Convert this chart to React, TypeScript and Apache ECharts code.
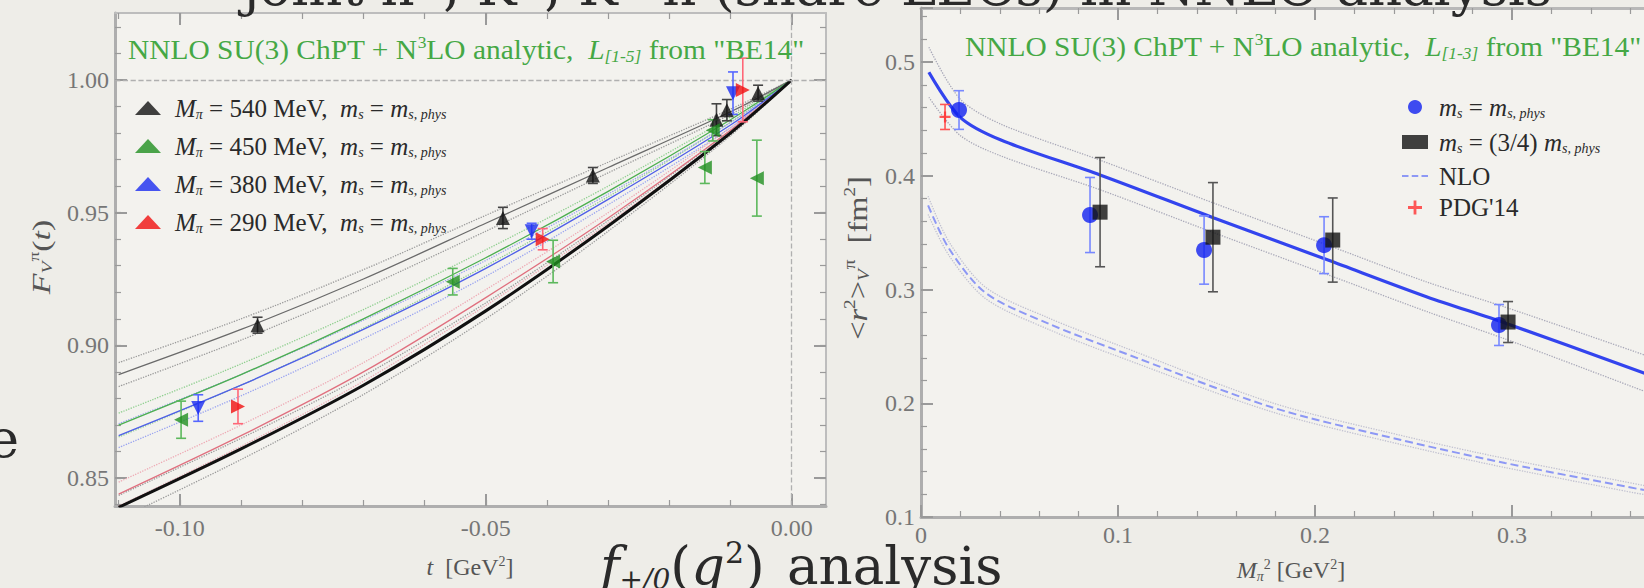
import React, { useEffect, useRef } from "react";
import * as echarts from "echarts";

// ---------------- Left panel: F_V^{pi+}(t) ----------------
const tGrid = [-0.11, -0.09, -0.07, -0.05, -0.03, -0.01, 0.0];
const fit540 = [0.889, 0.906, 0.925, 0.946, 0.967, 0.988, 1.0];
const fit450 = [0.870, 0.889, 0.910, 0.933, 0.958, 0.985, 1.0];
const fit380 = [0.866, 0.885, 0.906, 0.929, 0.955, 0.983, 1.0];
const fit290 = [0.844, 0.866, 0.890, 0.918, 0.948, 0.981, 1.0];
const fitPhys = [0.839, 0.861, 0.885, 0.913, 0.945, 0.980, 1.0];
const fitBand = [0.0045, 0.004, 0.0035, 0.003, 0.002, 0.001, 0.0];

// [t, F, error]
const pts540 = [
  [-0.0873, 0.9076, 0.003],
  [-0.0472, 0.948, 0.004],
  [-0.0325, 0.964, 0.003],
  [-0.0123, 0.985, 0.006],
  [-0.0106, 0.9886, 0.004],
  [-0.0055, 0.995, 0.003],
];
const pts450 = [
  [-0.0998, 0.872, 0.007],
  [-0.0554, 0.924, 0.005],
  [-0.039, 0.9316, 0.008],
  [-0.0142, 0.967, 0.006],
  [-0.0129, 0.981, 0.004],
  [-0.0057, 0.963, 0.0143],
];
const pts380 = [
  [-0.097, 0.8764, 0.005],
  [-0.0425, 0.943, 0.003],
  [-0.0096, 0.995, 0.008],
];
const pts290 = [
  [-0.0905, 0.877, 0.0065],
  [-0.0407, 0.94, 0.004],
  [-0.008, 0.9962, 0.012],
];

const leftXLabels = [-0.1, -0.05, 0.0];
const leftXMinor = [-0.11, -0.1, -0.09, -0.08, -0.07, -0.06, -0.05, -0.04, -0.03, -0.02, -0.01, 0.0];
const leftYLabels = [0.85, 0.9, 0.95, 1.0];
const leftYMinor = [0.84, 0.85, 0.86, 0.87, 0.88, 0.89, 0.9, 0.91, 0.92, 0.93, 0.94, 0.95, 0.96, 0.97, 0.98, 0.99, 1.0, 1.01, 1.02];

// ---------------- Right panel: <r^2>_V vs M_pi^2 ----------------
const nnloX = [0.004, 0.0198, 0.0406, 0.0909, 0.1487, 0.2066, 0.2569, 0.2964, 0.368];
const nnloY = [0.491, 0.4516, 0.4314, 0.4007, 0.3629, 0.3259, 0.2935, 0.2706, 0.226];
const nnloBand = [0.022, 0.016, 0.014, 0.013, 0.013, 0.013, 0.013, 0.014, 0.016];
const nloX = [0.0036, 0.0142, 0.0328, 0.0647, 0.099, 0.1777, 0.2437, 0.2964, 0.367];
const nloY = [0.374, 0.336, 0.297, 0.27, 0.2468, 0.1967, 0.1677, 0.1475, 0.1237];
const nloBand = [0.008, 0.006, 0.005, 0.005, 0.005, 0.004, 0.004, 0.004, 0.004];

const physPts = [
  [0.0193, 0.4578, 0.017],
  [0.0858, 0.3655, 0.033],
  [0.1437, 0.3347, 0.03],
  [0.2046, 0.339, 0.025],
  [0.2934, 0.2688, 0.018],
];
const threeQPts = [
  [0.0909, 0.368, 0.048],
  [0.1482, 0.346, 0.048],
  [0.209, 0.3435, 0.037],
  [0.298, 0.2714, 0.018],
];
const pdgPts = [[0.0122, 0.4517, 0.011]];

// ---------------- styling ----------------
const SERIF = "Liberation Serif";
const SLIDE = "DejaVu Serif";
const GREEN = "#45a845";
const AXIS = "#aeaeae";
const TICK = "#9a9a9a";
const LABEL = { fontFamily: SERIF, fontSize: 24, color: "#767676" };

function richFor(size: number, color: string, spW = 12) {
  const sub = Math.round(size * 0.58);
  const shift = Math.round(size * 0.5);
  return {
    i: { fontFamily: SERIF, fontSize: size, fontStyle: "italic", color, fill: color },
    s: { fontFamily: SERIF, fontSize: sub, fontStyle: "italic", color, fill: color, padding: [shift, 0, 0, 0] },
    p: { fontFamily: SERIF, fontSize: sub, color, fill: color, padding: [0, 0, shift, 0] },
    sp: { width: spW, fontSize: size },
  };
}

const L = { xAxisIndex: 0, yAxisIndex: 0 };
const R = { xAxisIndex: 4, yAxisIndex: 4 };

function curve(xs: number[], ys: number[], color: string, width: number, type: string, z: number, axes: any, extra: any = {}) {
  return {
    type: "line",
    ...axes,
    data: xs.map((x, i) => [x, ys[i]]),
    symbol: "none",
    smooth: 0.3,
    silent: true,
    z,
    lineStyle: { color, width, type },
    ...extra,
  };
}

function band(xs: number[], ys: number[], half: number[], center: string, edge: string, cw: number, axes: any, ctype = "solid", name?: string) {
  return [
    curve(xs, ys.map((y, i) => y + half[i]), edge, 1.3, "dotted", 2, axes),
    curve(xs, ys.map((y, i) => y - half[i]), edge, 1.3, "dotted", 2, axes),
    curve(xs, ys, center, cw, ctype, 3, axes, name ? { name } : {}),
  ];
}

function marks(name: string, pts: number[][], symbol: string, rotate: number, size: number, color: string, axes: any) {
  return {
    type: "scatter",
    name,
    ...axes,
    data: pts.map((p) => [p[0], p[1]]),
    symbol,
    symbolRotate: rotate,
    symbolSize: size,
    itemStyle: { color },
    z: 6,
    silent: true,
  };
}

function errorBars(pts: number[][], color: string, axes: any, cap = 5) {
  return {
    type: "custom",
    ...axes,
    data: pts,
    silent: true,
    z: 5,
    encode: { x: 0, y: 1 },
    renderItem: (_params: any, api: any) => {
      const x = api.value(0);
      const y = api.value(1);
      const e = api.value(2);
      const top = api.coord([x, y + e]);
      const bot = api.coord([x, y - e]);
      const style = { stroke: color, lineWidth: 1.6 };
      return {
        type: "group",
        children: [
          { type: "line", shape: { x1: top[0], y1: top[1], x2: bot[0], y2: bot[1] }, style },
          { type: "line", shape: { x1: top[0] - cap, y1: top[1], x2: top[0] + cap, y2: top[1] }, style },
          { type: "line", shape: { x1: bot[0] - cap, y1: bot[1], x2: bot[0] + cap, y2: bot[1] }, style },
        ],
      };
    },
  };
}

function majorAxis(gridIndex: number, position: string, min: number, max: number, labels: number[], showLabel: boolean, fmt: (v: number) => string, margin: number, lineColor = AXIS, lineWidth = 3) {
  return {
    type: "value",
    gridIndex,
    position,
    min,
    max,
    splitLine: { show: false },
    axisLine: { show: true, onZero: false, lineStyle: { color: lineColor, width: lineWidth } },
    axisTick: { show: true, inside: true, length: 12, customValues: labels, lineStyle: { color: TICK, width: 2 } },
    axisLabel: { show: showLabel, ...LABEL, margin, formatter: fmt, customValues: labels },
  };
}

function minorAxis(gridIndex: number, position: string, min: number, max: number, values: number[]) {
  return {
    type: "value",
    gridIndex,
    position,
    min,
    max,
    splitLine: { show: false },
    axisLine: { show: false, onZero: false },
    axisTick: { show: true, inside: true, length: 6, customValues: values, lineStyle: { color: TICK, width: 1.2 } },
    axisLabel: { show: false },
  };
}

function rightAxis(position: string, min: number, max: number, showLabel: boolean, margin: number, lineColor = AXIS) {
  return {
    type: "value",
    gridIndex: 1,
    position,
    min,
    max,
    interval: 0.1,
    splitLine: { show: false },
    axisLine: { show: true, onZero: false, lineStyle: { color: lineColor, width: 3 } },
    axisTick: { show: true, inside: true, length: 12, lineStyle: { color: TICK, width: 2 } },
    minorTick: { show: true, splitNumber: 5, length: 6, lineStyle: { color: TICK, width: 1.2 } },
    axisLabel: { show: showLabel, ...LABEL, margin, showMaxLabel: false },
  };
}

const f2 = (v: number) => v.toFixed(2);
const XL = [-0.1106, 0.0056];
const YL = [0.8395, 1.0252];
const XR = [0, 0.4];
const YR = [0.1, 0.5475];

const leftLegendText: Record<string, string> = {
  "540": "{sp|}{i|M}{s|π} = 540 MeV,  {i|m}{s|s} = {i|m}{s|s, phys}",
  "450": "{sp|}{i|M}{s|π} = 450 MeV,  {i|m}{s|s} = {i|m}{s|s, phys}",
  "380": "{sp|}{i|M}{s|π} = 380 MeV,  {i|m}{s|s} = {i|m}{s|s, phys}",
  "290": "{sp|}{i|M}{s|π} = 290 MeV,  {i|m}{s|s} = {i|m}{s|s, phys}",
};
const rightLegendText: Record<string, string> = {
  phys: "{sp|}{i|m}{s|s} = {i|m}{s|s, phys}",
  threeq: "{sp|}{i|m}{s|s} = (3/4) {i|m}{s|s, phys}",
  NLO: "{sp|}NLO",
  PDG: "{sp|}PDG'14",
};

const PLUS = "path://M4,0H6V4H10V6H6V10H4V6H0V4H4Z";
const DASH = "path://M0,0H6V2H0Z M9,0H15V2H9Z M18,0H24V2H18Z";

function textEl(x: number, y: number, text: string, size: number, color: string, opts: any = {}) {
  const { rich, align = "left", rotation = 0, scaleX = 1, font = SERIF } = opts;
  return {
    type: "text",
    x,
    y,
    rotation,
    scaleX,
    z: 100,
    silent: true,
    style: {
      text,
      fontFamily: font,
      fontSize: size,
      fill: color,
      align,
      verticalAlign: "middle",
      rich,
    },
  };
}

const slideRich = {
  fi: { fontFamily: SLIDE, fontSize: 53, fontStyle: "italic", fill: "#2a2a2a" },
  sb: { fontFamily: SLIDE, fontSize: 28, fontStyle: "italic", fill: "#2a2a2a", padding: [28, 0, 0, 0] },
  su: { fontFamily: SLIDE, fontSize: 30, fill: "#2a2a2a", padding: [0, 0, 26, 0] },
};

const option: any = {
  animation: false,
  backgroundColor: "#eeede8",
  grid: [
    { left: 115, top: 13, width: 711, height: 493, show: true, backgroundColor: "#f3f2ee", borderWidth: 0 },
    { left: 921, top: 8, width: 788, height: 509, show: true, backgroundColor: "#f3f2ee", borderWidth: 0 },
  ],
  xAxis: [
    majorAxis(0, "bottom", XL[0], XL[1], leftXLabels, true, f2, 10),
    minorAxis(0, "bottom", XL[0], XL[1], leftXMinor),
    majorAxis(0, "top", XL[0], XL[1], leftXLabels, false, f2, 8, "#bdbdbd", 2),
    minorAxis(0, "top", XL[0], XL[1], leftXMinor),
    rightAxis("bottom", XR[0], XR[1], true, 6),
    rightAxis("top", XR[0], XR[1], false, 6, "#b8b8b8"),
  ],
  yAxis: [
    majorAxis(0, "left", YL[0], YL[1], leftYLabels, true, f2, 6),
    minorAxis(0, "left", YL[0], YL[1], leftYMinor),
    majorAxis(0, "right", YL[0], YL[1], leftYLabels, false, f2, 8, "#bdbdbd", 2),
    minorAxis(0, "right", YL[0], YL[1], leftYMinor),
    rightAxis("left", YR[0], YR[1], true, 6),
  ],
  legend: [
    {
      orient: "vertical",
      left: 130,
      top: 89,
      itemGap: 10,
      itemWidth: 26,
      itemHeight: 14,
      selectedMode: false,
      data: ["540", "450", "380", "290"],
      formatter: (n: string) => leftLegendText[n],
      textStyle: { fontFamily: SERIF, fontSize: 25, color: "#2a2a2a", lineHeight: 28, rich: richFor(25, "#2a2a2a", 9) },
    },
    {
      orient: "vertical",
      left: 1397,
      top: 86,
      itemGap: 4,
      itemWidth: 26,
      itemHeight: 14,
      selectedMode: false,
      data: [
        { name: "phys", textStyle: { lineHeight: 32 } },
        { name: "threeq", textStyle: { lineHeight: 30 } },
        { name: "NLO", icon: DASH, itemStyle: { color: "#8d98f5" }, textStyle: { lineHeight: 30 } },
        { name: "PDG", textStyle: { lineHeight: 12 } },
      ],
      formatter: (n: string) => rightLegendText[n],
      textStyle: { fontFamily: SERIF, fontSize: 25, color: "#2a2a2a", rich: richFor(25, "#2a2a2a", 6) },
    },
  ],
  series: [
    // left panel fits
    ...band(tGrid, fit540, fitBand, "#6a6a6a", "#9a9a9a", 1.3, L),
    ...band(tGrid, fit450, fitBand, "#4caf50", "#8fcf8f", 1.3, L),
    ...band(tGrid, fit380, fitBand, "#4f5fe8", "#9aa4f0", 1.3, L),
    ...band(tGrid, fit290, fitBand, "#e0707f", "#eeaab5", 1.3, L),
    ...band(tGrid, fitPhys, fitBand, "#111111", "#9a9a9a", 3, L),
    {
      type: "line",
      ...L,
      data: [],
      silent: true,
      markLine: {
        silent: true,
        symbol: "none",
        label: { show: false },
        lineStyle: { color: "#b0b0b0", type: "dashed", width: 1.3 },
        data: [{ yAxis: 1 }, { xAxis: 0 }],
      },
    },
    errorBars(pts540, "#444444", L),
    errorBars(pts450, "#5cb85c", L),
    errorBars(pts380, "#5566ff", L),
    errorBars(pts290, "#ff6677", L),
    marks("540", pts540, "triangle", 0, 14, "#111111", L),
    marks("450", pts450, "triangle", 90, 14, "#1f8f1f", L),
    marks("380", pts380, "triangle", 180, 14, "#1a2cf0", L),
    marks("290", pts290, "triangle", -90, 14, "#f01010", L),
    // right panel
    ...band(nnloX, nnloY, nnloBand, "#3344ee", "#a8a8b8", 3.2, R),
    ...band(nloX, nloY, nloBand, "#8d98f5", "#c0c0d0", 2, R, "dashed", "NLO"),
    errorBars(physPts, "#7788ff", R),
    errorBars(threeQPts, "#555555", R),
    errorBars(pdgPts, "#ff5555", R),
    marks("phys", physPts, "circle", 0, 16, "#1020f0", R),
    marks("threeq", threeQPts, "rect", 0, 15, "#111111", R),
    marks("PDG", pdgPts, PLUS, 0, 11, "#ff3030", R),
  ],
  graphic: [
    // slide text
    textEl(1552, -14, "joint π⁺, K⁺, K→π (share LECs) in NNLO analysis", 53, "#2a2a2a", { align: "right", font: SLIDE }),
    textEl(19, 438, "e", 53, "#2a2a2a", { align: "right", font: SLIDE }),
    textEl(600, 565, "{fi|f}{sb|+/0}({fi|q}{su|2})", 53, "#2a2a2a", { font: SLIDE, rich: slideRich }),
    textEl(787, 565, "analysis", 53, "#2a2a2a", { font: SLIDE }),
    // panel titles
    textEl(128, 50, 'NNLO SU(3) ChPT + N{p|3}LO analytic,  {i|L}{s|[1-5]} from "BE14"', 27, GREEN, { rich: richFor(27, GREEN), scaleX: 1.09 }),
    textEl(965, 47, 'NNLO SU(3) ChPT + N{p|3}LO analytic,  {i|L}{s|[1-3]} from "BE14"', 27, GREEN, { rich: richFor(27, GREEN), scaleX: 1.09 }),
    // axis names
    textEl(470, 567, "{i|t}  [GeV{p|2}]", 24, "#555555", { align: "center", rich: richFor(24, "#555555") }),
    textEl(1291, 570, "{i|M}{s|π}{p|2} [GeV{p|2}]", 24, "#555555", { align: "center", rich: richFor(24, "#555555") }),
    textEl(41, 257, "{i|F}{s|V}{p|π}({i|t})", 26, "#555555", { align: "center", rotation: Math.PI / 2, scaleX: 1.3, rich: richFor(26, "#555555") }),
    textEl(857, 258, "<{i|r}{p|2}>{s|V}{p|π}  [fm{p|2}]", 27, "#555555", { align: "center", rotation: Math.PI / 2, scaleX: 1.2, rich: richFor(27, "#555555") }),
  ],
};

export default function App() {
  const ref = useRef<HTMLDivElement>(null);
  useEffect(() => {
    if (!ref.current) return;
    const chart = echarts.init(ref.current, null, { renderer: "svg" });
    chart.setOption(option);
    return () => chart.dispose();
  }, []);
  return <div ref={ref} style={{ position: "fixed", left: 0, top: 0, width: 1720, height: 588 }} />;
}
